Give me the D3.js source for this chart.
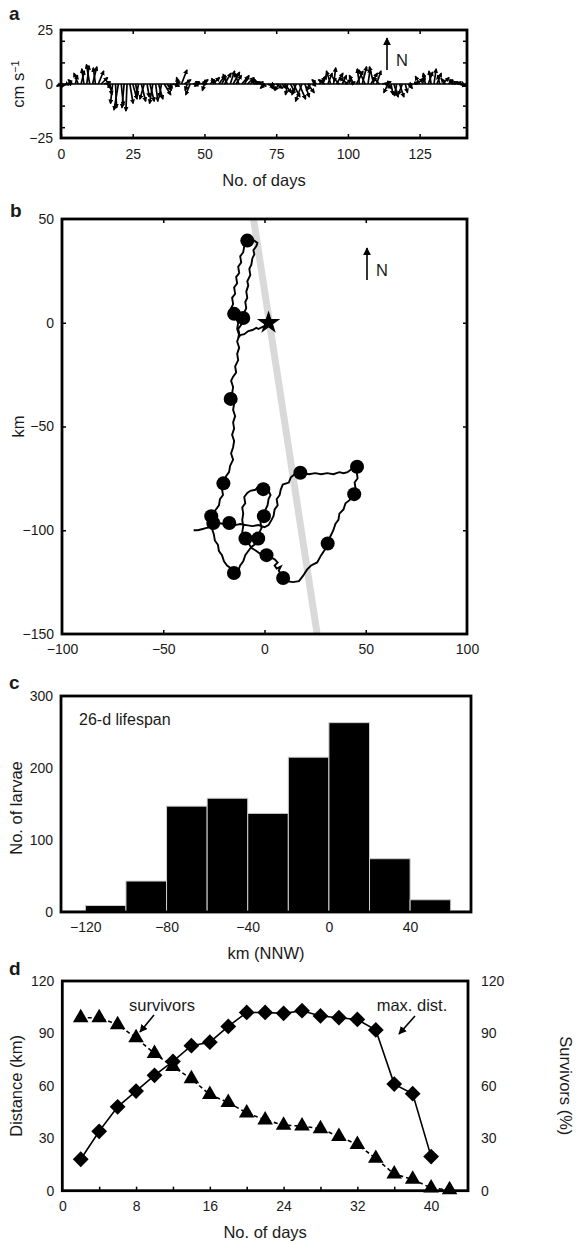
<!DOCTYPE html>
<html>
<head>
<meta charset="utf-8">
<script src="https://cdn.jsdelivr.net/npm/d3@7"></script>
<style>
  body { margin: 0; background: #fff; }
  svg text { font-family: "Liberation Sans", Arial, Helvetica, sans-serif; fill: #1a1a1a; }
</style>
</head>
<body>
<script>
// ---- panel a: current sticks (one per day, cm/s) ----
const stickV = [
  -1, -1.5, -0.5, 1, 2, 4, 5, 6, 7, 8.5,
  9, 8, 7.5, 6, 3, 1, -2, -5, -9, -11,
  -12, -10, -11, -12.5, -9, -7, -5, -6, -8, -7,
  -6, -8, -9, -8, -7, -6, -5, -3, -2, -1,
  1, 3, 6.5, 2, -3, -5, 1, 0.5, -1, 2,
  -3, 1, 2, 3, 2.5, 4, 3.5, 5, 4.5, 6,
  5.5, 4, 5, 3.5, 4, 3, 2, 1, 2.5, 1,
  -1, -2, -1.5, -2.5, -1, -2, -3, -2, -4, -5,
  -4, -6, -5, -7, -8, -6, -4, -3, -1, 2,
  3, 4, 2, 5, 6, 7.5, 5, 3, 4, 2,
  3, 1, 4, 6, 7, 8, 6.5, 7, 5, 8,
  6, 3, 1, -2, -4, -5, -6, -5.5, -6, -5,
  -4, -2, -1, 1, 2.5, 3.5, 4, 5, 5.5, 6,
  7, 5, 4, 3, 2.5, 2, 1, 2, 1, -1,
  -0.5
];
const stickU = [
  -2, -1, 1, 1, -2, 1, -2, 1.5, -1, 1,
  -1.5, 2, -1, 2.5, 3, 3, 2, 1, -1, 0.5,
  -2, 1, -1, -0.5, 1.5, 2, 1, -1, 2, -2,
  1, 2, -1.5, 1, 2, -1, 3, 2, 1, 3,
  2, -1, 2.5, 3, -1, -2, 3, 2, -2, 3,
  -1, -2, 2, 3, -2, 3, 2, 3, -2, 2,
  3, 2.5, -2, 3, 2, 3, 2, 3, -1, 2,
  2, -2, 3, 2, -1, 3, -2, 2, 3, -1,
  2, 3, -2, 3, -3, 2, 3, -2, 1, -2,
  3, 2, -3, 2, -2, 1, 3, -3, 2, 3,
  -4, 2, -2, 3, -1, 2, -3, 1, 3, -2,
  2, -3, 4, 3, -2, 1, 2, -1, 2, -2,
  1, 2, -1, 2, 3, -2, 1, -1, 2, -1,
  1, 2, -1, 3, -2, 2, 3, -2, 2, 3,
  1
];
const aXTicks = [0, 25, 50, 75, 100, 125];
const aYLabels = [-25, 0, 25];
const aYTicks = [-20, -10, 0, 10, 20];

// ---- panel b: drifter track (km) ----
const trackX = [2, 0.5, -1, -3, -4, -6, -8, -10, -12, -13,
  -12.5, -13, -11.5, -12, -10.5, -10, -9, -9.5, -8.5, -9, -8, -8.5, -7, -7.5, -6.5, -6, -5, -5.5, -4, -3.5, -5, -8.5,
  -10, -10.5, -12, -11.5, -13, -12.5, -14, -13.5, -15, -14.5, -16, -15.5, -16.5, -15,
  -14, -13, -13.5, -12.5, -13.5, -12.5, -13.5, -13, -14.5, -14, -15.5, -16.5, -15.5, -16, -16.7, -15, -15.5, -14.5, -15.5, -15, -16, -15, -15.5, -16.5, -15.5, -17, -17.5, -19, -20.3, -21, -20.5, -22, -22.5, -24, -26.3,
  -25.5, -26, -25, -24.5, -23, -22.5, -21, -20, -18.5, -17, -15.1, -13, -12, -10.5, -9.5, -8, -6.5, -5, -3.1,
  -2.5, -1.5, -2, -0.3, 0.5, 1.5, 2, 3, 2, -0.6, -3, -4.5, -7, -8.5, -10, -9.5, -11, -10.5, -11, -10.5, -11, -9.4,
  -8, -6.5, -4, -2, 1, 3, 5, 6.5, 5, 6, 8, 7, 8, 9.2,
  11, 14, 17, 19, 21, 23, 26, 28, 30, 31.2,
  32.5, 34, 35, 36.5, 37, 39, 40, 42, 44.3, 45, 44.5, 46, 45.5, 45.7,
  43, 41, 39, 37, 34, 31, 28, 25, 22, 17.7,
  15, 13, 12, 9, 8, 7.5, 6, 6.5, 5, 4.5, 3.5, 2, 0,
  -3, -6, -9, -12, -14.5, -17.4, -20, -23, -25.3, -27, -29, -31, -33, -35];
const trackY = [0, -1.5, -2, -3, -2.5, -3.5, -4, -5.5, -6, -7.5,
  -5, -3, -1, 1, 2.3, 5, 7, 10, 12, 15, 18, 20, 23, 26, 28, 31, 33, 35, 37, 38.5, 39.5, 39.6,
  37, 34, 32, 29, 27, 24, 22, 19, 17, 14, 12, 9, 7, 4.3,
  2, 0, -3, -6, -9, -12, -15, -18, -21, -24, -26, -28, -31, -34, -36.7, -39, -42, -45, -48, -51, -54, -57, -60, -63, -66, -69, -72, -74, -77.4, -80, -83, -85, -88, -90, -93.2,
  -96, -99, -102, -105, -107, -110, -112, -115, -117, -118, -120.6, -119.5, -117, -115, -112, -110, -108, -107, -104,
  -101, -99, -96, -93.2, -90, -88, -85, -83, -81, -80.2, -79, -80.5, -81, -82, -84, -87, -89, -92, -95, -98, -101, -104,
  -106, -108.5, -110, -111.5, -112, -113, -114, -115.5, -117, -118.5, -117.5, -119.5, -121, -123,
  -124.5, -125, -124.5, -122, -119, -117, -115.5, -112, -109, -106.4,
  -103, -100, -97, -95, -92, -90, -87, -85.5, -82.6, -80, -77, -75, -72, -69.4,
  -70.5, -72, -72.5, -72, -73, -72.5, -73, -72.5, -73, -72.3,
  -73, -74.5, -77, -78, -80.5, -83, -85, -88, -90, -93, -95, -97.5, -98.5,
  -97.5, -98, -97.5, -97, -97.5, -96.5, -97, -96.5, -96.5, -98.5, -99, -99.5, -100, -100];
const dotX = [-8.5, -15, -10.5, -16.7, -20.3, -0.6, 17.7, 45.7, 44.3, -26.3, -25.3, -17.4, -0.3, -9.4, -3.1, 1, 31.2, -15.1, 9.2];
const dotY = [39.6, 4.3, 2.3, -36.7, -77.4, -80.2, -72.3, -69.4, -82.6, -93.2, -96.5, -96.5, -93.2, -104, -104, -112, -106.4, -120.6, -123];
const startX = 2, startY = 0;
const bandX = [-5.4, 26];
const bandY = [50, -150];
const bTicks = [-100, -50, 0, 50, 100];
const bYTicks = [-150, -100, -50, 0, 50];

// ---- panel c: histogram ----
const binStart = [-140, -120, -100, -80, -60, -40, -20, 0, 20, 40, 60];
const binWidth = 20;
const larvae = [2, 9, 43, 147, 158, 137, 215, 263, 74, 17, 2];
const cXTicks = [-120, -80, -40, 0, 40];
const cYTicks = [0, 100, 200, 300];

// ---- panel d: distance and survivors ----
const distDays = [2, 4, 6, 8, 10, 12, 14, 16, 18, 20, 22, 24, 26, 28, 30, 32, 34, 36, 38, 40];
const distKm = [18, 34, 48, 57, 66, 74, 83, 85, 94, 102, 102, 101.5, 103, 100, 99, 98, 92, 61, 55.5, 19.5];
const survDays = [2, 4, 6, 8, 10, 12, 14, 16, 18, 20, 22, 24, 26, 28, 30, 32, 34, 36, 38, 40, 42];
const survPct = [99, 99, 95, 87.5, 78.5, 71, 64, 55, 50.5, 44.5, 40.5, 37.5, 37, 35.5, 31, 26.5, 18.5, 9.5, 6.5, 1.5, 0.5];
const dXLabels = [0, 8, 16, 24, 32, 40];
const dXTicks = [4, 8, 12, 16, 20, 24, 28, 32, 36, 40];
const dYTicks = [0, 30, 60, 90, 120];

const W = 579, H = 1243;
const svg = d3.select("body").append("svg").attr("width", W).attr("height", H);

const defs = svg.append("defs");
defs.append("marker").attr("id", "head")
  .attr("viewBox", "0 0 10 10").attr("refX", 9).attr("refY", 5)
  .attr("markerWidth", 8).attr("markerHeight", 8).attr("markerUnits", "userSpaceOnUse")
  .attr("orient", "auto")
  .append("path").attr("d", "M0,0L10,5L0,10z").attr("fill", "#000");
defs.append("marker").attr("id", "small")
  .attr("viewBox", "0 0 10 10").attr("refX", 8).attr("refY", 5)
  .attr("markerWidth", 5).attr("markerHeight", 5).attr("markerUnits", "userSpaceOnUse")
  .attr("orient", "auto")
  .append("path").attr("d", "M0,0L10,5L0,10z").attr("fill", "#000");

const tickFont = "14px";
const titleFont = "16.5px";

function styleAxis(sel) {
  sel.select(".domain").remove();
  sel.selectAll("line").attr("stroke", "#000").attr("stroke-width", 1.5);
  sel.selectAll("text").style("font-size", tickFont).attr("fill", "#1a1a1a");
  sel.attr("font-family", null);
}

function frame(g, x, y) {
  g.append("rect")
    .attr("x", x.range()[0]).attr("y", y.range()[1])
    .attr("width", x.range()[1] - x.range()[0])
    .attr("height", y.range()[0] - y.range()[1])
    .attr("fill", "none").attr("stroke", "#000").attr("stroke-width", 2.8);
}

function panelLetter(t, x, y) {
  svg.append("text").attr("x", x).attr("y", y).text(t)
    .style("font-size", "19px").style("font-weight", "700");
}

// ================= PANEL A =================
const ax = d3.scaleLinear().domain([0, 141.5]).range([61, 467]);
const ay = d3.scaleLinear().domain([-25, 25]).range([138, 30]);
const k = ay(0) - ay(1); // px per cm/s, same in both directions
const gA = svg.append("g");

gA.append("line")
  .attr("x1", ax(0)).attr("x2", ax(141.5))
  .attr("y1", ay(0)).attr("y2", ay(0))
  .attr("stroke", "#000").attr("stroke-width", 1.6);

gA.selectAll(".stick")
  .data(stickV.map((v, i) => ({ day: i, u: stickU[i], v: v })))
  .join("line")
  .attr("class", "stick")
  .attr("x1", d => ax(d.day)).attr("y1", ay(0))
  .attr("x2", d => ax(d.day) + d.u * k).attr("y2", d => ay(d.v))
  .attr("stroke", "#000").attr("stroke-width", 1.7)
  .attr("marker-end", "url(#small)");

gA.append("g").attr("transform", `translate(0,${ay.range()[0]})`)
  .call(d3.axisBottom(ax).tickValues(aXTicks).tickSizeInner(-4).tickSizeOuter(0).tickPadding(11))
  .call(styleAxis);
gA.append("g").attr("transform", `translate(0,${ay.range()[1]})`)
  .call(d3.axisTop(ax).tickValues(aXTicks).tickSizeInner(-4).tickSizeOuter(0).tickFormat(""))
  .call(styleAxis);
gA.append("g").attr("transform", `translate(${ax.range()[0]},0)`)
  .call(d3.axisLeft(ay).tickValues(aYLabels).tickSize(0).tickPadding(8).tickFormat(d3.format("d")))
  .call(styleAxis);
gA.append("g").attr("transform", `translate(${ax.range()[0]},0)`)
  .call(d3.axisLeft(ay).tickValues(aYTicks).tickSizeInner(-4).tickSizeOuter(0).tickFormat(""))
  .call(styleAxis);
gA.append("g").attr("transform", `translate(${ax.range()[1]},0)`)
  .call(d3.axisRight(ay).tickValues(aYTicks).tickSizeInner(-4).tickSizeOuter(0).tickFormat(""))
  .call(styleAxis);
frame(gA, ax, ay);

gA.append("line").attr("x1", 387).attr("x2", 387).attr("y1", 70).attr("y2", 38)
  .attr("stroke", "#000").attr("stroke-width", 1.6).attr("marker-end", "url(#head)");
gA.append("text").attr("x", 396).attr("y", 66).text("N").style("font-size", titleFont);

const cmLabel = gA.append("text")
  .attr("transform", `translate(24,${ay(0)}) rotate(-90)`)
  .attr("text-anchor", "middle").style("font-size", titleFont);
cmLabel.append("tspan").text("cm s");
cmLabel.append("tspan").attr("dy", "-0.45em").style("font-size", "11px").text("\u22121");

gA.append("text").attr("x", (ax.range()[0] + ax.range()[1]) / 2).attr("y", 186)
  .attr("text-anchor", "middle").style("font-size", titleFont).text("No. of days");
panelLetter("a", 9, 20);

// ================= PANEL B =================
const bx = d3.scaleLinear().domain([-100, 100]).range([62, 467]);
const by = d3.scaleLinear().domain([-150, 50]).range([634, 219]);
const gB = svg.append("g");
defs.append("clipPath").attr("id", "clipB").append("rect")
  .attr("x", bx.range()[0]).attr("y", by.range()[1])
  .attr("width", bx.range()[1] - bx.range()[0]).attr("height", by.range()[0] - by.range()[1]);

gB.append("line")
  .attr("x1", bx(bandX[0])).attr("y1", by(bandY[0]))
  .attr("x2", bx(bandX[1])).attr("y2", by(bandY[1]))
  .attr("stroke", "#d9d9d9").attr("stroke-width", 7)
  .attr("clip-path", "url(#clipB)");

const trackLine = d3.line().x(d => bx(d[0])).y(d => by(d[1]));
gB.append("path")
  .datum(trackX.map((x, i) => [x, trackY[i]]))
  .attr("d", trackLine)
  .attr("fill", "none").attr("stroke", "#000").attr("stroke-width", 1.9)
  .attr("stroke-linejoin", "miter");

gB.selectAll(".dot")
  .data(dotX.map((x, i) => [x, dotY[i]]))
  .join("circle").attr("class", "dot")
  .attr("cx", d => bx(d[0])).attr("cy", d => by(d[1])).attr("r", 7)
  .attr("fill", "#000");

gB.append("path")
  .attr("d", d3.symbol(d3.symbolStar, 170)())
  .attr("transform", `translate(${bx(startX)},${by(startY)})`)
  .attr("fill", "#000");

gB.append("g").attr("transform", `translate(0,${by.range()[0]})`)
  .call(d3.axisBottom(bx).tickValues(bTicks).tickSizeInner(0).tickSizeOuter(0).tickPadding(10))
  .call(styleAxis);
gB.append("g").attr("transform", `translate(0,${by.range()[0]})`)
  .call(d3.axisBottom(bx).tickValues([-50, 0, 50]).tickSizeInner(-4).tickSizeOuter(0).tickFormat(""))
  .call(styleAxis);
gB.append("g").attr("transform", `translate(0,${by.range()[1]})`)
  .call(d3.axisTop(bx).tickValues([-50, 0, 50]).tickSizeInner(-4).tickSizeOuter(0).tickFormat(""))
  .call(styleAxis);
gB.append("g").attr("transform", `translate(${bx.range()[0]},0)`)
  .call(d3.axisLeft(by).tickValues(bYTicks).tickSizeInner(0).tickSizeOuter(0).tickPadding(8))
  .call(styleAxis);
gB.append("g").attr("transform", `translate(${bx.range()[0]},0)`)
  .call(d3.axisLeft(by).tickValues([-100, -50, 0]).tickSizeInner(-4).tickSizeOuter(0).tickFormat(""))
  .call(styleAxis);
gB.append("g").attr("transform", `translate(${bx.range()[1]},0)`)
  .call(d3.axisRight(by).tickValues([-100, -50, 0]).tickSizeInner(-4).tickSizeOuter(0).tickFormat(""))
  .call(styleAxis);
frame(gB, bx, by);

gB.append("line").attr("x1", 367).attr("x2", 367).attr("y1", 280).attr("y2", 248)
  .attr("stroke", "#000").attr("stroke-width", 1.6).attr("marker-end", "url(#head)");
gB.append("text").attr("x", 376).attr("y", 276).text("N").style("font-size", titleFont);

gB.append("text").attr("transform", `translate(24,${by(-50)}) rotate(-90)`)
  .attr("text-anchor", "middle").style("font-size", titleFont).text("km");
panelLetter("b", 10, 217);

// ================= PANEL C =================
const cx = d3.scaleLinear().domain([-132, 70]).range([61, 471]);
const cy = d3.scaleLinear().domain([0, 300]).range([912, 696]);
const gC = svg.append("g");
defs.append("clipPath").attr("id", "clipC").append("rect")
  .attr("x", cx.range()[0]).attr("y", cy.range()[1])
  .attr("width", cx.range()[1] - cx.range()[0]).attr("height", cy.range()[0] - cy.range()[1]);

gC.append("g").attr("clip-path", "url(#clipC)")
  .selectAll(".bar")
  .data(binStart.map((s, i) => ({ s: s, n: larvae[i] })))
  .join("rect").attr("class", "bar")
  .attr("x", d => cx(d.s)).attr("width", d => cx(d.s + binWidth) - cx(d.s))
  .attr("y", d => cy(d.n)).attr("height", d => cy(0) - cy(d.n))
  .attr("fill", "#000").attr("stroke", "#d0d0d0").attr("stroke-width", 1);

gC.append("g").attr("transform", `translate(0,${cy.range()[0]})`)
  .call(d3.axisBottom(cx).tickValues(cXTicks).tickSizeInner(0).tickSizeOuter(0).tickPadding(10))
  .call(styleAxis);
gC.append("g").attr("transform", `translate(${cx.range()[0]},0)`)
  .call(d3.axisLeft(cy).tickValues(cYTicks).tickSizeInner(0).tickSizeOuter(0).tickPadding(8))
  .call(styleAxis);
frame(gC, cx, cy);

gC.append("text").attr("x", 79).attr("y", 725).style("font-size", "16px").text("26-d lifespan");
gC.append("text").attr("x", (cx.range()[0] + cx.range()[1]) / 2).attr("y", 959)
  .attr("text-anchor", "middle").style("font-size", titleFont).text("km (NNW)");
gC.append("text").attr("transform", `translate(22,${(cy.range()[0] + cy.range()[1]) / 2 + 4}) rotate(-90)`)
  .attr("text-anchor", "middle").style("font-size", titleFont).text("No. of larvae");
panelLetter("c", 9, 689);

// ================= PANEL D =================
const dx = d3.scaleLinear().domain([0, 44]).range([62.3, 468]);
const dy = d3.scaleLinear().domain([0, 120]).range([1190.7, 981]);
const gD = svg.append("g");

gD.append("path")
  .datum(survDays.map((d, i) => [d, survPct[i]]))
  .attr("d", d3.line().x(d => dx(d[0])).y(d => dy(d[1])))
  .attr("fill", "none").attr("stroke", "#000").attr("stroke-width", 1.6)
  .attr("stroke-dasharray", "4,3");
gD.append("path")
  .datum(distDays.map((d, i) => [d, distKm[i]]))
  .attr("d", d3.line().x(d => dx(d[0])).y(d => dy(d[1])))
  .attr("fill", "none").attr("stroke", "#000").attr("stroke-width", 1.6);

gD.selectAll(".tri")
  .data(survDays.map((d, i) => [d, survPct[i]]))
  .join("path").attr("class", "tri")
  .attr("d", d3.symbol(d3.symbolTriangle, 105)())
  .attr("transform", d => `translate(${dx(d[0])},${dy(d[1])})`)
  .attr("fill", "#000");
gD.selectAll(".dia")
  .data(distDays.map((d, i) => [d, distKm[i]]))
  .join("path").attr("class", "dia")
  .attr("d", d3.symbol(d3.symbolSquare, 125)())
  .attr("transform", d => `translate(${dx(d[0])},${dy(d[1])}) rotate(45)`)
  .attr("fill", "#000");

gD.append("g").attr("transform", `translate(0,${dy.range()[0]})`)
  .call(d3.axisBottom(dx).tickValues(dXLabels).tickSizeInner(0).tickSizeOuter(0).tickPadding(10))
  .call(styleAxis);
gD.append("g").attr("transform", `translate(0,${dy.range()[0]})`)
  .call(d3.axisBottom(dx).tickValues(dXTicks).tickSizeInner(-4).tickSizeOuter(0).tickFormat(""))
  .call(styleAxis);
gD.append("g").attr("transform", `translate(${dx.range()[0]},0)`)
  .call(d3.axisLeft(dy).tickValues(dYTicks).tickSizeInner(0).tickSizeOuter(0).tickPadding(8))
  .call(styleAxis);
gD.append("g").attr("transform", `translate(${dx.range()[1]},0)`)
  .call(d3.axisRight(dy).tickValues(dYTicks).tickSizeInner(0).tickSizeOuter(0).tickPadding(13))
  .call(styleAxis);
frame(gD, dx, dy);

gD.append("text").attr("x", 162).attr("y", 1011).attr("text-anchor", "middle")
  .style("font-size", titleFont).text("survivors");
gD.append("line").attr("x1", 154).attr("y1", 1015).attr("x2", 140).attr("y2", 1032)
  .attr("stroke", "#000").attr("stroke-width", 1.6).attr("marker-end", "url(#head)");
gD.append("text").attr("x", 412).attr("y", 1011).attr("text-anchor", "middle")
  .style("font-size", titleFont).text("max. dist.");
gD.append("line").attr("x1", 415).attr("y1", 1016).attr("x2", 399).attr("y2", 1034)
  .attr("stroke", "#000").attr("stroke-width", 1.6).attr("marker-end", "url(#head)");

gD.append("text").attr("x", (dx.range()[0] + dx.range()[1]) / 2).attr("y", 1238)
  .attr("text-anchor", "middle").style("font-size", titleFont).text("No. of days");
gD.append("text").attr("transform", `translate(22,${dy(60)}) rotate(-90)`)
  .attr("text-anchor", "middle").style("font-size", titleFont).text("Distance (km)");
gD.append("text").attr("transform", `translate(560,${dy(60)}) rotate(90)`)
  .attr("text-anchor", "middle").style("font-size", titleFont).text("Survivors (%)");
panelLetter("d", 9, 975);
</script>
</body>
</html>
